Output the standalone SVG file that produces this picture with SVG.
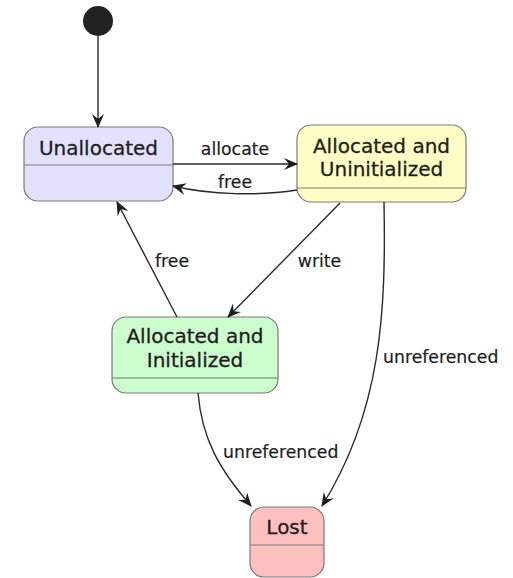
<svg xmlns="http://www.w3.org/2000/svg" width="513" height="578" viewBox="0 0 513 578">
<style>
.st{stroke:#7a7a7a;stroke-width:1.2}
.nt{font-family:"DejaVu Sans",Verdana,sans-serif;font-size:20px;fill:#1e1e1e;text-anchor:middle;stroke:#1e1e1e;stroke-width:0.3}
.lb{font-family:"DejaVu Sans",Verdana,sans-serif;font-size:17.3px;fill:#1e1e1e;stroke:#1e1e1e;stroke-width:0.2}
.cn{fill:none;stroke:#2a2a2a;stroke-width:1.4;marker-end:url(#ah)}
</style>
<defs>
<marker id="ah" viewBox="0 0 14 12" refX="13" refY="6" markerWidth="14" markerHeight="12" markerUnits="userSpaceOnUse" orient="auto">
<path d="M0,0 L14,6 L0,12 L5,6 Z" fill="#1e1e1e"/>
</marker>
</defs>
<rect width="513" height="578" fill="#fff"/>
<g id="start"><circle cx="98" cy="21" r="15" fill="#222"/></g>
<g id="unallocated">
<rect class="st" x="24" y="127" width="149" height="74" rx="14" fill="#E2E2FE"/>
<line class="st" x1="24" y1="165" x2="173" y2="165"/>
<text class="nt" x="98.5" y="155">Unallocated</text>
</g>
<g id="alloc_uninit">
<rect class="st" x="297" y="125" width="169" height="77" rx="14" fill="#FEFEC4"/>
<line class="st" x1="297" y1="188" x2="466" y2="188"/>
<text class="nt" x="381.5" y="153">Allocated and</text>
<text class="nt" x="381.5" y="176">Uninitialized</text>
</g>
<g id="alloc_init">
<rect class="st" x="112" y="317" width="166" height="76" rx="14" fill="#CCFDCC"/>
<line class="st" x1="112" y1="378" x2="278" y2="378"/>
<text class="nt" x="195" y="343">Allocated and</text>
<text class="nt" x="195" y="367">Initialized</text>
</g>
<g id="lost">
<rect class="st" x="250" y="507" width="74" height="70" rx="14" fill="#FEBFBF"/>
<line class="st" x1="250" y1="545" x2="324" y2="545"/>
<text class="nt" x="287" y="534">Lost</text>
</g>
<g id="connectors">
<path class="cn" d="M98,36 L98,127"/>
<path class="cn" d="M173,164 L297,164"/>
<path class="cn" d="M297,190 C260,196 210,195 173,186"/>
<path class="cn" d="M177,317 L117,202"/>
<path class="cn" d="M340,203 L228,317"/>
<path class="cn" d="M384,202 C386,310 382,410 322,506"/>
<path class="cn" d="M198,393 C202,440 220,470 251,506"/>
<text class="lb" x="235" y="155" text-anchor="middle">allocate</text>
<text class="lb" x="235" y="188" text-anchor="middle">free</text>
<text class="lb" x="172" y="267" text-anchor="middle">free</text>
<text class="lb" x="319.5" y="267" text-anchor="middle">write</text>
<text class="lb" x="383" y="363">unreferenced</text>
<text class="lb" x="223" y="458">unreferenced</text>
</g>
</svg>
